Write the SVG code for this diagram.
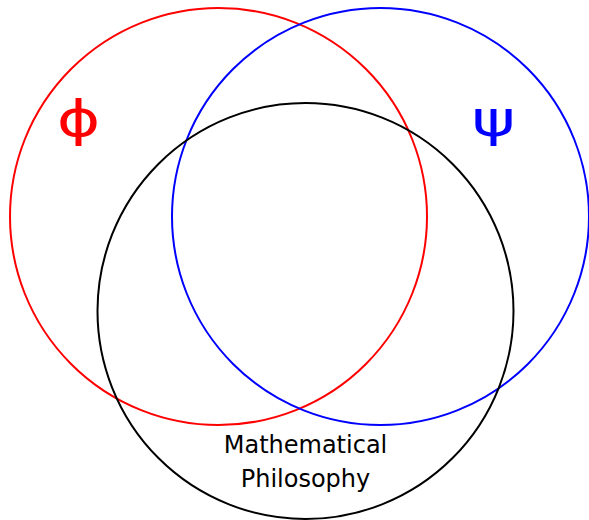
<svg xmlns="http://www.w3.org/2000/svg" width="589" height="520" viewBox="0 0 589 520">
<style>
.c{fill:none;stroke-width:2}
.g{font-family:"DejaVu Sans",sans-serif;font-size:49px;text-anchor:middle}
.t{font-family:"DejaVu Sans",sans-serif;font-size:24px;text-anchor:middle;fill:#000}
</style>
<rect width="589" height="520" fill="#fff"/>
<g id="phi">
<circle class="c" cx="218.5" cy="216.5" r="208.5" stroke="#ff0000"/>
<text class="g" transform="translate(78.5,135.5) scale(1.35,1)" fill="#ff0000">ϕ</text>
</g>
<g id="psi">
<circle class="c" cx="380.5" cy="216.5" r="208.5" stroke="#0000ff"/>
<text class="g" transform="translate(493.5,135.5) scale(1.35,1)" fill="#0000ff">ψ</text>
</g>
<g id="mathphil">
<circle class="c" cx="305.5" cy="311" r="208" stroke="#000"/>
<text class="t" x="305.5" y="453">Mathematical</text>
<text class="t" x="305.5" y="487">Philosophy</text>
</g>
<g id="connectors"/>
</svg>
